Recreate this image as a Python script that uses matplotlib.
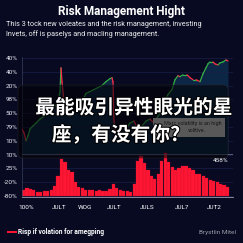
import numpy as np
import matplotlib
matplotlib.use('Agg')
import matplotlib.pyplot as plt
from matplotlib.patches import FancyBboxPatch, Rectangle
import matplotlib.patheffects as pe

# data (x in day units, y in chart units)
line_x = [22, 24, 26, 28, 30, 33, 36, 40, 44, 48, 52, 56, 58, 60, 61, 62, 64, 66, 70, 74,
          78, 82, 86, 90, 94, 98, 102, 106, 110, 112, 113, 114, 116, 118, 122, 126, 130, 134,
          138, 142, 146, 150, 154, 158, 162, 165, 168, 172, 175, 178, 180, 183, 187, 190, 193,
          196, 200, 203, 206, 208, 210, 213, 215, 218, 220, 223, 226, 228]
line_y = [68, 64, 56, 61, 68, 71, 74, 78, 81, 86, 88, 92, 96, 106, 130, 116, 96, 86, 81, 84,
          91, 96, 104, 106, 108, 110, 112, 116, 119, 120, 116, 76, 56, 66, 71, 68, 74, 76,
          68, 71, 76, 78, 74, 81, 86, 96, 103, 108, 118, 122, 121, 123, 123, 120, 118,
          118, 116, 124, 130, 134, 136, 136, 134, 133, 135, 136, 138, 137]

bar_vals = [6, 8, 7, 6, 4, 4, 5, 5, 6, 10, 20, 38, 34, 26, 24, 14, 9, 8, 6, 6,
            6, 5, 6, 5, 5, 7, 12, 8, 6, 5, 5, 4, 12, 36, 41, 33, 26, 20, 17, 22,
            36, 44, 34, 29, 26, 28, 30, 30, 28, 26, 22, 22, 20, 18, 16, 15, 14, 12, 11, 9]

y_labels = ['-80%', '-20%', '25%', '10%', '10%', '79%', '50%', '98%', '20%', '40%', '40%']
x_labels = ['100%', 'JULT', 'WOG', 'JULT', 'JULS', 'JUL7', 'JUT2']
x_label_pos = [26, 59, 85, 114, 147, 182, 214]

bg = '#080a22'
plt.rcParams['font.family'] = ['Roboto', 'DejaVu Sans']

fig = plt.figure(figsize=(2.43, 2.43), dpi=100, facecolor=bg)
ax = fig.add_axes([22/243, 1-197/243, 211/243, 140/243], facecolor=bg)

# bars (bottom panel)
bar_x = np.linspace(23.5, 227.5, len(bar_vals))
ax.bar(bar_x, bar_vals, width=3.2, color='#ff1634', edgecolor='#c8102a', linewidth=0.2, zorder=2)

# area + colored line (top panel)
ax.fill_between(line_x, 42, line_y, color='#0d2c4c', alpha=0.85, linewidth=0, zorder=1)
for i in range(len(line_x) - 1):
    c = '#35b04a' if line_y[i+1] >= line_y[i] else '#ff2a45'
    ax.plot(line_x[i:i+2], line_y[i:i+2], color=c, lw=0.9, solid_capstyle='round', zorder=3)

ax.set_xlim(22, 233)
ax.set_ylim(-1, 141)
ax.set_yticks(np.arange(0, 141, 14))
ax.set_yticklabels(y_labels)
ax.set_xticks(x_label_pos)
ax.set_xticklabels(x_labels)
ax.tick_params(colors='#e8e8f0', labelsize=4.6, length=0, pad=3)
ax.tick_params(axis='x', pad=6)
for t in ax.get_xticklabels():
    t.set_color('white')
ax.grid(axis='y', color='#1a1f48', lw=0.5, zorder=0)
ax.axhline(43, color='#6a6e88', lw=0.6, zorder=4)
for s in ['top', 'right']:
    ax.spines[s].set_visible(False)
ax.spines['left'].set_color('#3a3e60')
ax.spines['left'].set_linewidth(0.5)
ax.spines['bottom'].set_color('#9a9cb0')
ax.spines['bottom'].set_linewidth(0.6)

# title and subtitle
fig.text(0.5, 1-12/243, 'Risk Management Hight', ha='center', va='center',
         color='white', fontsize=8.5, fontweight='bold')
fig.text(6/243, 1-25/243, 'This 3 tock new voleates and the risk management, investing',
         ha='left', va='center', color='#f0f0f0', fontsize=5.2)
fig.text(6/243, 1-34/243, 'Invets, off is paselys and macling management.',
         ha='left', va='center', color='#f0f0f0', fontsize=5.2)

fig.text(221/243, 1-160/243, '458%', ha='center', va='center', color='white', fontsize=4.6)

# tooltip
fig.patches.append(Rectangle((153/243, 1-137/243), 72/243, 19/243, transform=fig.transFigure,
                             facecolor='#c4c4c4', edgecolor='none', zorder=5))
fig.text(222/243, 1-123/243, 'Marc volatility is an high', ha='right', va='center',
         color='#333333', fontsize=3.9, zorder=6)
fig.text(188/243, 1-130/243, 'volitive.', ha='left', va='center',
         color='#333333', fontsize=3.9, zorder=6)

# overlay
fig.patches.append(FancyBboxPatch((18/243, 1-158/243), 210/243, 73/243,
                                  boxstyle='round,pad=0,rounding_size=0.02',
                                  transform=fig.transFigure, facecolor='#000000', alpha=0.55,
                                  edgecolor='#2a2a2a', lw=0.6, zorder=7))
shadow = [pe.withStroke(linewidth=1.5, foreground='#000000')]
fig.text(134/243, 1-108/243, '最能吸引异性眼光的星', ha='center', va='center', color='white',
         fontsize=14.2, fontweight='bold', family=['Noto Sans CJK SC', 'DejaVu Sans'],
         path_effects=shadow, zorder=8)
fig.text(116/243, 1-135/243, '座，有没有你?', ha='center', va='center', color='white',
         fontsize=14.2, fontweight='bold', family=['Noto Sans CJK SC', 'DejaVu Sans'],
         path_effects=shadow, zorder=8)

# legend
fig.lines.append(plt.Line2D([8/243, 16/243], [1-232/243, 1-232/243], transform=fig.transFigure,
                            color='#ff1634', lw=1.4))
fig.text(18/243, 1-232/243, 'Risp if volation for amegping', ha='left', va='center',
         color='white', fontsize=4.8, fontweight='bold')
fig.text(236/243, 1-232/243, 'Brystlin Mitel', ha='right', va='center',
         color='#9a9ca8', fontsize=4.6)

fig.savefig('out.png', dpi=100, facecolor=bg)
